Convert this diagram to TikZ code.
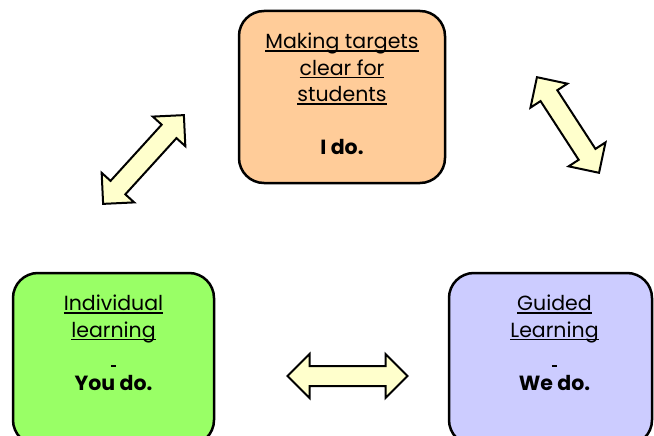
\documentclass[tikz,border=0pt]{standalone}
\usepackage{fontspec}
\setmainfont{Poppins}
\usetikzlibrary{positioning}

\definecolor{orangebox}{HTML}{FFCC99}
\definecolor{greenbox}{HTML}{99FF66}
\definecolor{bluebox}{HTML}{CCCCFF}
\definecolor{arrowfill}{HTML}{FFFFCC}

% underline drawn just under the baseline, letters on top of it
\newcommand{\undl}[1]{\setbox0\hbox{#1}\rlap{\rule[-3pt]{\wd0}{1.5pt}}\box0}

\tikzset{
  % fat two-headed arrow, #1 = half length
  pics/dblarrow/.style = {code = {
    \draw[fat] (-#1,0) -- (-#1+22,22) -- (-#1+22,10) -- (#1-22,10) -- (#1-22,22) -- (#1,0)
      -- (#1-22,-22) -- (#1-22,-10) -- (-#1+22,-10) -- (-#1+22,-22) -- cycle;
  }}
}

\begin{document}
\begin{tikzpicture}[x=1pt, y=-1pt,
    stage/.style = {draw, line width=2.5pt, rounded corners=25pt, inner sep=0pt},
    words/.style = {align=center, inner sep=0pt, font=\fontsize{20.5}{26.5}\selectfont},
    fat/.style = {draw, fill=arrowfill, line width=2pt, line join=miter}]

  \useasboundingbox (0,0) rectangle (654,436);
  \clip (0,0) rectangle (654,436);

  % the three stages
  \node[stage, fill=orangebox, minimum width=206pt, minimum height=172pt] (target) at (342,97) {};
  \node[stage, fill=greenbox, minimum width=201pt, minimum height=172pt] (indiv) at (113.5,359) {};
  \node[stage, fill=bluebox, minimum width=203pt, minimum height=172pt] (guided) at (550.5,359) {};

  \node[words, below=23pt of target.north] (targettext)
    {\undl{Making targets}\\\undl{clear for}\\\undl{students}\\[26.5pt]\textbf{I do.}};
  \node[words, below=23pt of indiv.north] (indivtext)
    {\undl{Individual}\\\undl{learning}\\\undl{\ }\\\textbf{You do.}};
  \node[words, below=23pt of guided.north, xshift=4pt] (guidedtext)
    {\undl{Guided}\\\undl{Learning}\\\undl{\ }\\\textbf{We do.}};

  % arrows between them
  \pic[rotate=47.7] at (143.5,159.5) {dblarrow=60};
  \pic[rotate=-57] at (568,125) {dblarrow=57};
  \pic at (347.5,376) {dblarrow=60};
\end{tikzpicture}
\end{document}
